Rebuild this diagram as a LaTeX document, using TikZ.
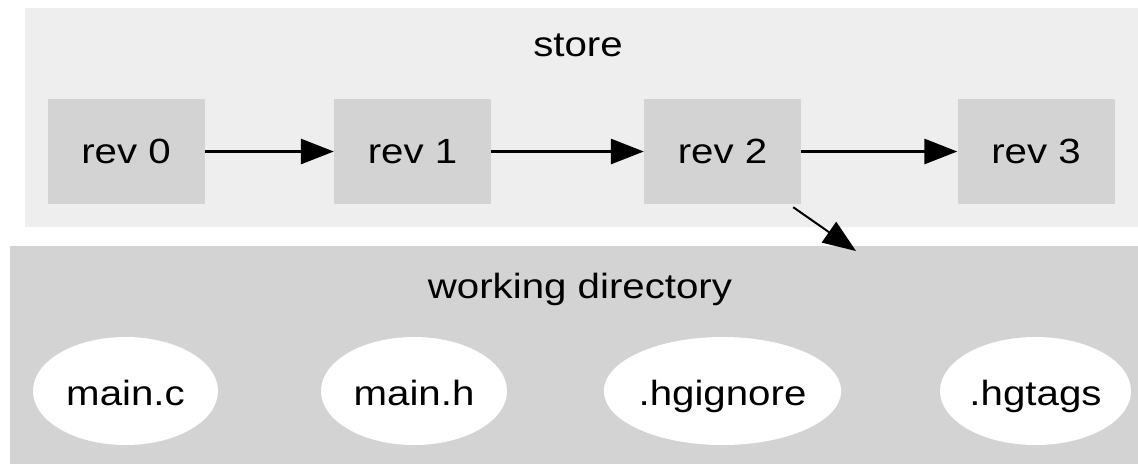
\documentclass[tikz,border=0pt]{standalone}
\usepackage{fontspec}
\setmainfont{Liberation Sans}
\usetikzlibrary{arrows.meta,shapes.geometric}
\definecolor{storebg}{HTML}{EEEEEE}
\definecolor{boxgray}{HTML}{D3D3D3}
\newcommand{\lbl}[1]{\scalebox{1.15}[1]{#1}}
\tikzset{
  revbox/.style={rectangle, fill=boxgray, minimum width=157pt, minimum height=105pt, inner sep=0pt, text height=30pt, text depth=6pt, font=\fontsize{35}{40}\selectfont},
  filenode/.style={ellipse, fill=white, inner sep=0pt, minimum height=108pt, text height=33pt, text depth=5pt, font=\fontsize{35}{40}\selectfont},
  cluster label/.style={font=\fontsize{35}{40}\selectfont, inner sep=0pt},
  revedge/.style={line width=3pt, -{Triangle[length=33pt, width=25pt]}},
  wdedge/.style={line width=2pt, -{Triangle[length=33pt, width=25pt]}}
}
\begin{document}
\begin{tikzpicture}[x=1pt, y=-1pt]
\useasboundingbox (0,0) rectangle (1138,464);
% clusters
\fill[storebg] (25,8) rectangle (1138,227);
\fill[boxgray] (10,246) rectangle (1138,464);
\node[cluster label] (storelbl) at (578,45) {\lbl{store}};
\node[cluster label] (wdlbl) at (580,289) {\lbl{working directory}};
% revisions
\node[revbox] (rev0) at (126,151.5) {\lbl{rev 0}};
\node[revbox] (rev1) at (412.5,151.5) {\lbl{rev 1}};
\node[revbox] (rev2) at (722.5,151.5) {\lbl{rev 2}};
\node[revbox] (rev3) at (1036,151.5) {\lbl{rev 3}};
% working directory files
\node[filenode, minimum width=185pt] (mainc) at (125.5,391) {\lbl{main.c}};
\node[filenode, minimum width=186pt] (mainh) at (414,391) {\lbl{main.h}};
\node[filenode, minimum width=231pt] (hgignore) at (722.5,391) {\lbl{.hgignore}};
\node[filenode, minimum width=191pt] (hgtags) at (1035.5,391) {\lbl{.hgtags}};
% history
\draw[revedge] (rev0.east) -- (rev1.west);
\draw[revedge] (rev1.east) -- (rev2.west);
\draw[revedge] (rev2.east) -- (rev3.west);
% checkout into the working directory
\coordinate (wdtop) at (856,251);
\draw[wdedge] ([xshift=-8pt,yshift=-3pt]rev2.south east) -- (wdtop);
\end{tikzpicture}
\end{document}
